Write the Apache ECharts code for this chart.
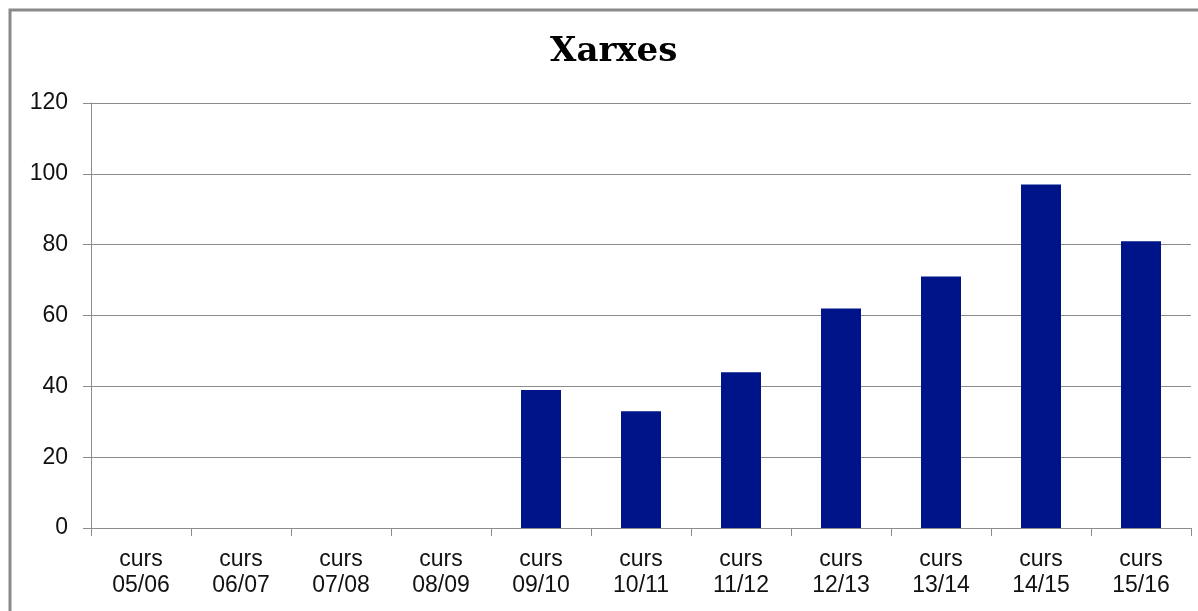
<!DOCTYPE html>
<html><head><meta charset="utf-8">
<script src="https://cdn.jsdelivr.net/npm/echarts@6/dist/echarts.min.js"></script>
<style>html,body{margin:0;padding:0;background:#fff}#c{width:1198px;height:611px}</style>
</head><body><div id="c"></div>
<script>
const categories = ['curs\n05/06','curs\n06/07','curs\n07/08','curs\n08/09','curs\n09/10','curs\n10/11','curs\n11/12','curs\n12/13','curs\n13/14','curs\n14/15','curs\n15/16'];
const values = [0,0,0,0,39,33,44,62,71,97,81];
const yTicks = [0,20,40,60,80,100,120];
const chart = echarts.init(document.getElementById('c'));
chart.setOption({
  animation:false,
  backgroundColor:'#fff',
  title:{text:'Xarxes',left:545,top:30,textStyle:{fontFamily:'DejaVu Serif',fontWeight:'bold',fontSize:34,color:'#000'}},
  graphic:[{type:'rect',shape:{x:10,y:10,width:1300,height:700},style:{fill:'none',stroke:'#8a8a8a',lineWidth:3},silent:true}],
  grid:{left:91,right:7,top:103,bottom:83},
  xAxis:{type:'category',data:categories,
    axisLine:{lineStyle:{color:'#8c8c8c',width:1}},
    axisTick:{show:true,length:8,interval:0,lineStyle:{color:'#8c8c8c'}},
    axisLabel:{interval:0,margin:19,fontFamily:'Liberation Sans',fontSize:23,color:'#111',lineHeight:26}},
  yAxis:{type:'value',min:yTicks[0],max:yTicks[yTicks.length-1],interval:20,
    axisLine:{show:true,lineStyle:{color:'#8c8c8c',width:1}},
    axisTick:{show:true,length:8,lineStyle:{color:'#8c8c8c'}},
    splitLine:{lineStyle:{color:'#8c8c8c',width:1}},
    axisLabel:{margin:23,fontFamily:'Liberation Sans',fontSize:23,color:'#111'}},
  series:[{type:'bar',data:values,barWidth:'40%',itemStyle:{color:'#001489'}}]
});
</script></body></html>
